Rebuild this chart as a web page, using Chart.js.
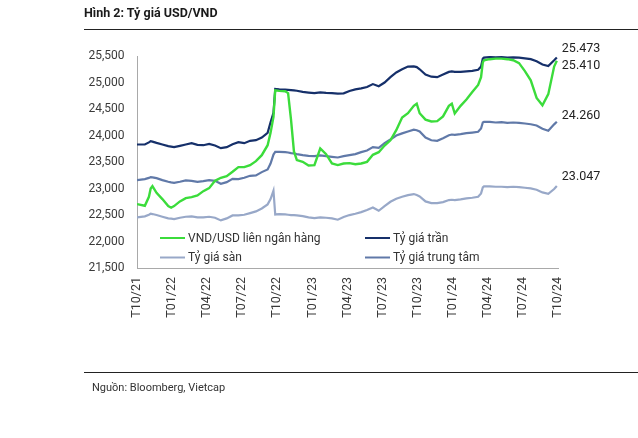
<!DOCTYPE html>
<html><head><meta charset="utf-8">
<script src="https://cdn.jsdelivr.net/npm/chart.js@4.4.1/dist/chart.umd.min.js"></script>
<style>
html,body{margin:0;padding:0;background:#fff;}
#wrap{position:relative;width:638px;height:438px;overflow:hidden;font-family:Roboto,"Noto Sans",sans-serif;}
#title{position:absolute;left:84px;top:5px;line-height:15px;font-weight:bold;font-size:12.5px;color:#1a1a1a;white-space:nowrap;}
.rule{position:absolute;left:84px;width:554px;height:1px;background:#222;}
#src{position:absolute;left:92px;top:381px;line-height:14px;font-size:11px;color:#333;white-space:nowrap;}
canvas{position:absolute;left:0;top:0;}
</style></head>
<body><div id="wrap">
<canvas id="c" width="638" height="438"></canvas>
<div id="title">Hình 2: Tỷ giá USD/VND</div>
<div class="rule" style="top:29px"></div>
<div class="rule" style="top:372px"></div>
<div id="src">Nguồn: Bloomberg, Vietcap</div>
</div>
<script>
// x position of each observation, in months since T10/21
const monthPos = [0,0.67,1.02,1.17,1.32,1.67,2.17,2.67,2.92,3.17,3.67,4.17,4.67,5.17,5.67,6.17,6.67,7.17,7.67,8.17,8.67,9.17,9.67,10.17,10.67,11.17,11.42,11.67,11.82,12.17,12.67,12.92,13.17,13.42,13.67,14.17,14.67,15.17,15.67,16.17,16.67,17.17,17.67,18.17,18.67,19.17,19.67,20.17,20.67,21.17,21.67,22.17,22.67,23.17,23.67,23.92,24.17,24.67,25.17,25.67,26.17,26.67,26.92,27.17,27.67,28.17,28.67,29.17,29.42,29.57,29.67,30.17,30.67,31.17,31.67,32.17,32.67,33.17,33.67,34.17,34.67,35.17,35.67,35.9];
const tickLabels = ['T10/21','T01/22','T04/22','T07/22','T10/22','T01/23','T04/23','T07/23','T10/23','T01/24','T04/24','T07/24','T10/24'];
const seriesNames = ['VND/USD liên ngân hàng','Tỷ giá trần','Tỷ giá sàn','Tỷ giá trung tâm'];
const interbank = [22706,22674,22844,23001,23045,22919,22800,22668,22637,22668,
22756,22819,22838,22869,22950,23007,23145,23202,23233,23315,
23403,23403,23441,23516,23629,23817,24050,24351,24853,24841,
24835,24800,24300,23700,23535,23503,23434,23441,23755,23648,
23472,23441,23472,23478,23459,23472,23503,23635,23685,23810,
23910,24100,24340,24420,24560,24600,24420,24300,24265,24270,
24360,24560,24600,24415,24560,24680,24820,24955,25100,25380,
25420,25440,25450,25450,25440,25420,25365,25215,25040,24710,
24570,24780,25300,25410];
const ceilingRate = [23830,23830,23870,23893,23885,23861,23830,23799,23790,23780,
23805,23830,23855,23824,23817,23843,23811,23761,23780,23836,
23874,23855,23899,23912,23962,24050,24250,24430,24880,24872,
24866,24862,24857,24852,24845,24822,24810,24800,24815,24805,
24800,24790,24795,24840,24870,24890,24915,24970,24930,25000,
25100,25190,25250,25300,25305,25290,25250,25150,25110,25100,
25150,25200,25210,25200,25200,25210,25220,25240,25300,25450,
25470,25480,25475,25478,25470,25475,25470,25455,25440,25400,
25340,25310,25420,25473];
const floorRate = [22455,22474,22505,22524,22518,22499,22467,22436,22430,22423,
22448,22467,22474,22455,22455,22467,22448,22398,22436,22492,
22492,22505,22536,22568,22624,22700,22800,22960,22510,22517,
22511,22505,22499,22496,22492,22480,22455,22442,22455,22448,
22436,22411,22461,22499,22524,22555,22593,22643,22580,22668,
22750,22806,22844,22875,22895,22876,22851,22756,22725,22725,
22744,22782,22788,22782,22794,22813,22826,22844,22907,23020,
23039,23039,23033,23033,23027,23033,23027,23014,23001,22976,
22926,22901,22990,23047];
const centralRate = [23158,23177,23200,23215,23210,23196,23158,23127,23115,23108,
23127,23152,23145,23127,23139,23158,23145,23089,23120,23183,
23177,23202,23240,23246,23309,23360,23470,23640,23690,23692,
23686,23679,23667,23660,23648,23629,23616,23610,23623,23610,
23598,23585,23610,23629,23648,23686,23717,23780,23767,23855,
23924,24000,24040,24075,24110,24100,24075,23960,23910,23900,
23950,24006,24019,24012,24025,24044,24056,24070,24132,24245,
24257,24257,24245,24251,24239,24245,24239,24226,24213,24188,
24126,24090,24210,24260];

const FONT = 'Roboto, "Noto Sans", sans-serif';
const toXY = arr => arr.map((v, i) => ({x: monthPos[i], y: v}));

const legendPlugin = {
  id: 'inLegend',
  afterDraw(chart) {
    const ctx = chart.ctx;
    const pos = [[160, 238], [365, 238], [160, 257.5], [365, 257.5]];
    chart.data.datasets.forEach((ds, i) => {
      const [x, y] = pos[i];
      ctx.save();
      ctx.strokeStyle = ds.borderColor;
      ctx.lineWidth = 2;
      ctx.beginPath(); ctx.moveTo(x, y); ctx.lineTo(x + 25, y); ctx.stroke();
      ctx.fillStyle = '#333';
      ctx.font = '12px ' + FONT;
      ctx.textBaseline = 'middle';
      ctx.fillText(ds.label, x + 28, y + 0.5);
      ctx.restore();
    });
  }
};
const endLabelPlugin = {
  id: 'endLabels',
  afterDatasetsDraw(chart) {
    const ctx = chart.ctx;
    const dy = [5, -9, -9, -6];
    chart.data.datasets.forEach((ds, i) => {
      const meta = chart.getDatasetMeta(i);
      const p = meta.data[meta.data.length - 1];
      const v = ds.data[ds.data.length - 1].y;
      const txt = String(v).replace(/\B(?=(\d{3})+(?!\d))/g, '.');
      ctx.save();
      ctx.font = '12.5px ' + FONT;
      ctx.fillStyle = '#222';
      ctx.textBaseline = 'middle';
      ctx.fillText(txt, p.x + 5, p.y + dy[i]);
      ctx.restore();
    });
  }
};

new Chart(document.getElementById('c'), {
  type: 'line',
  data: {
    datasets: [
      {label: seriesNames[0], data: toXY(interbank), borderColor: '#3bdc3b', borderWidth: 2.4},
      {label: seriesNames[1], data: toXY(ceilingRate), borderColor: '#16306a', borderWidth: 2.2},
      {label: seriesNames[2], data: toXY(floorRate), borderColor: '#98a8c8', borderWidth: 2.2},
      {label: seriesNames[3], data: toXY(centralRate), borderColor: '#6079a8', borderWidth: 2.2}
    ]
  },
  options: {
    responsive: false,
    animation: false,
    layout: {padding: {left: 0, top: 56, right: 80, bottom: 110}},
    elements: {point: {radius: 0}, line: {tension: 0}},
    plugins: {legend: {display: false}, tooltip: {enabled: false}},
    scales: {
      x: {
        type: 'linear', min: 0, max: 36,
        grid: {display: false, drawTicks: false},
        border: {display: true, color: '#a9a9a9', width: 1},
        afterFit: s => { s.height = 60; },
        ticks: {
          stepSize: 3, maxTicksLimit: 20, autoSkip: false,
          minRotation: 90, maxRotation: 90, padding: 9,
          color: '#383838', font: {family: FONT, size: 12.5},
          callback: v => tickLabels[Math.round(v / 3)]
        }
      },
      y: {
        min: 21500, max: 25500,
        grid: {display: false, drawTicks: false},
        border: {display: true, color: '#a9a9a9', width: 1},
        afterFit: s => { s.width = 137; },
        ticks: {
          stepSize: 500, maxTicksLimit: 20, padding: 12.5,
          color: '#3a3a3a', font: {family: FONT, size: 12},
          callback: v => v.toLocaleString('en-US')
        }
      }
    }
  },
  plugins: [legendPlugin, endLabelPlugin]
});
</script>
</body></html>
